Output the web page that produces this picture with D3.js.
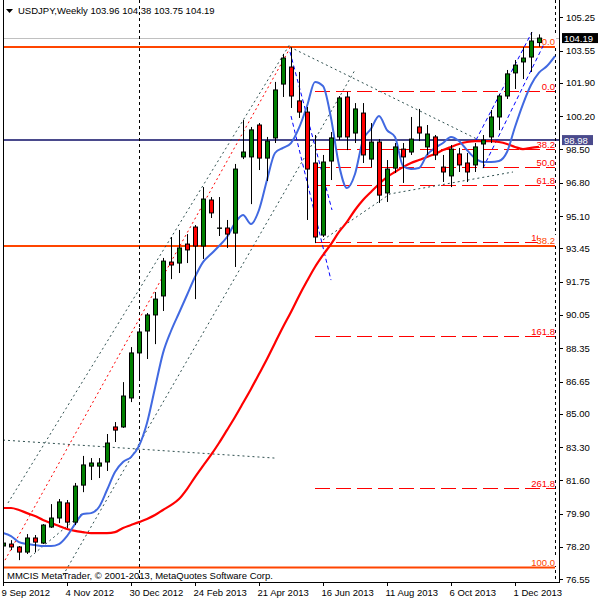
<!DOCTYPE html>
<html><head><meta charset="utf-8">
<script src="https://cdn.jsdelivr.net/npm/d3@7"></script>
<style>
body{margin:0;background:#fff}
svg{display:block}
text{font-family:"Liberation Sans",Arial,sans-serif}
</style>
</head><body>
<svg id="chart" width="600" height="600"></svg>
<script>
// ---------- DATA ----------
const symbolTitle = "USDJPY,Weekly";
const lastOHLC = [103.96, 104.38, 103.75, 104.19];
const copyright = "MMCIS MetaTrader, \u00A9 2001-2013, MetaQuotes Software Corp.";

const opens  = [78.25,78.35,78.20,77.94,78.66,78.40,79.22,79.68,80.45,79.47,81.36,82.33,82.33,82.54,84.33,84.33,85.81,88.11,89.23,90.05,91.02,92.75,92.70,93.67,94.54,93.57,95.92,94.49,94.49,94.23,98.12,98.12,99.75,98.06,99.09,101.84,102.71,100.98,100.41,97.81,94.13,97.91,99.14,101.18,99.34,100.36,98.01,98.88,96.28,97.55,98.52,98.37,99.65,98.63,99.14,97.60,97.15,98.27,97.81,97.71,98.78,99.14,100.16,101.23,102.41,102.97,103.22,103.96];
const highs  = [78.50,78.55,78.25,78.86,78.81,79.37,80.39,80.65,80.60,81.47,82.85,82.74,82.74,83.97,84.58,86.62,88.41,89.38,90.15,91.22,92.96,94.03,94.39,94.18,94.64,96.58,96.07,96.07,94.90,97.76,100.00,99.65,99.85,99.14,101.95,103.38,103.71,102.46,100.67,99.24,98.22,99.39,101.23,101.44,100.87,100.87,99.85,99.03,97.96,98.83,98.83,100.16,100.57,99.75,99.24,98.22,98.73,98.58,98.32,98.83,99.24,100.52,101.33,102.56,103.07,103.73,104.50,104.38];
const lows   = [78.10,78.04,77.53,77.84,77.94,78.35,79.17,79.42,79.17,79.32,81.00,81.62,81.72,82.08,83.56,84.28,85.60,86.83,87.80,88.56,90.25,91.88,92.19,92.70,90.86,92.91,95.00,94.08,93.47,92.50,98.01,95.71,97.45,96.89,98.83,101.18,100.62,100.11,94.90,93.72,94.03,96.94,98.98,98.47,98.83,97.81,97.60,95.77,95.82,97.30,96.79,98.22,98.93,98.22,97.96,96.84,96.58,97.35,96.84,97.35,97.55,98.83,99.49,101.08,101.59,102.10,102.46,103.75];
const closes = [78.40,78.20,77.94,78.66,78.45,79.32,79.68,80.50,79.47,81.31,82.39,82.49,82.49,83.51,84.17,85.91,88.11,89.18,90.05,90.86,92.80,92.60,93.47,93.37,93.57,95.97,95.26,94.49,94.18,97.50,98.37,99.50,98.06,98.93,101.54,103.17,101.23,100.41,97.50,94.03,97.86,99.09,101.13,99.14,100.57,98.22,98.88,96.17,97.50,98.63,98.12,99.03,99.34,99.29,98.22,97.35,98.52,97.71,97.35,98.63,98.98,100.16,101.23,102.36,102.81,103.17,104.04,104.19];

// slow moving average (red)
const maSlow = [80.19,80.19,80.09,79.93,79.78,79.58,79.42,79.27,79.12,79.02,78.96,78.91,78.91,78.91,78.96,79.17,79.32,79.47,79.63,79.83,80.09,80.34,80.65,81.16,81.77,82.34,82.90,83.51,84.17,84.84,85.55,86.27,87.03,87.80,88.62,89.43,90.20,91.02,91.78,92.50,93.11,93.67,94.29,94.80,95.41,95.92,96.33,96.74,97.09,97.35,97.60,97.81,97.96,98.12,98.27,98.47,98.63,98.78,98.88,98.93,98.93,98.93,98.88,98.78,98.63,98.52,98.58,98.63];
// fast moving average (blue), shifted forward two bars
const maFast = [78.91,78.76,78.45,78.35,78.30,78.25,78.25,78.35,78.76,79.37,79.88,79.93,80.24,81.11,82.03,82.54,82.79,83.36,84.53,86.32,88.10,89.23,90.15,91.07,91.99,92.75,93.16,93.57,94.03,94.74,95.15,94.69,95.41,96.94,98.32,98.58,98.83,99.60,100.72,101.95,101.74,100.11,97.71,96.53,97.25,98.98,99.55,100.21,99.49,99.14,97.66,97.50,97.55,98.22,98.58,98.83,99.14,98.93,98.47,98.06,97.86,97.86,97.91,98.37,99.65,100.82,101.79,102.42,102.76,103.27];

const priceTicks = [105.25,103.55,101.90,100.20,98.50,96.80,95.10,93.45,91.75,90.05,88.35,86.65,85.00,83.30,81.60,79.90,78.20,76.55];
const dateLabels = ["9 Sep 2012","4 Nov 2012","30 Dec 2012","24 Feb 2013","21 Apr 2013","16 Jun 2013","11 Aug 2013","6 Oct 2013","1 Dec 2013"];
const dateBars   = [0,8,16,24,32,40,48,56,64];

const orangeFibLevels = [0, 38.2, 100];
const orangeFibPrices = [103.73, 77.15];
const redFibLevels = [0, 38.2, 50, 61.8, 100, 161.8, 261.8];
const redFibPrices = [101.50, 93.75];
const redFibStartBar = 39;

const bidPrice = 104.19;
const hLinePrice = 98.98;
const markerBars = [17, 69];

// trendline anchors [bar, price]
const grayLines = [
  [[0.625,80.45],[35.875,103.89]],
  [[7.5,76.75],[44,102.56]],
  [[3.4,77.69],[10.1,79.98]],
  [[0,83.66],[34,82.74]],
  [[35.875,103.73],[60.25,98.83]],
  [[40,93.88],[48.375,96.23],[63.75,97.35]]
];
const redDotLines = [[[0.25,77.53],[35.875,103.68]]];
const blueDashLines = [
  [[35.875,103.48],[41.125,95.41]],
  [[36,100.21],[41,91.83]],
  [[59.125,98.98],[66.125,104.50]],
  [[60,97.55],[67.875,104.09]]
];

// ---------- DRAW ----------
const svg = d3.select("#chart");
const L = 3, R = 559, B = 582;
const x = d3.scaleLinear().domain([0, 69]).range([3, 555]);
const y = d3.scaleLinear().domain([76.55, 105.25]).range([579.3, 17.3]);
const X = i => Math.round(x(i)) + 0.5;

svg.append("defs").append("clipPath").attr("id","plot")
  .append("rect").attr("x",L).attr("y",0).attr("width",R-L).attr("height",B);

const g = svg.append("g").attr("clip-path","url(#plot)");

// bid line
g.append("line").attr("x1",L).attr("x2",R).attr("y1",Math.round(y(bidPrice))+0.5).attr("y2",Math.round(y(bidPrice))+0.5)
  .attr("stroke","#c0c0c0").attr("stroke-width",1);

// orange fib
const ofy = lv => orangeFibPrices[0] + (orangeFibPrices[1]-orangeFibPrices[0])*lv/100;
g.selectAll(".ofib").data(orangeFibLevels).enter().append("line")
  .attr("x1",L).attr("x2",x(69)).attr("y1",d=>y(ofy(d))).attr("y2",d=>y(ofy(d)))
  .attr("stroke","#ff4500").attr("stroke-width",2);

// red fib
const rfy = lv => redFibPrices[0] + (redFibPrices[1]-redFibPrices[0])*lv/100;
g.selectAll(".rfib").data(redFibLevels).enter().append("line")
  .attr("x1",x(redFibStartBar)).attr("x2",x(69)).attr("y1",d=>Math.round(y(rfy(d)))+0.5).attr("y2",d=>Math.round(y(rfy(d)))+0.5)
  .attr("stroke","#ff0000").attr("stroke-width",1).attr("stroke-dasharray","15,6");

// navy horizontal line
g.append("line").attr("x1",L).attr("x2",R).attr("y1",y(hLinePrice)).attr("y2",y(hLinePrice))
  .attr("stroke","#4a4a8c").attr("stroke-width",2);

// vertical dashed markers
g.selectAll(".vm").data(markerBars).enter().append("line")
  .attr("x1",d=>X(d)).attr("x2",d=>X(d)).attr("y1",0).attr("y2",B)
  .attr("stroke","#000").attr("stroke-width",1).attr("stroke-dasharray","3,3");

// trendlines
const tl = d3.line().x(d=>x(d[0])).y(d=>y(d[1]));
g.selectAll(".gl").data(grayLines).enter().append("path").attr("d",tl)
  .attr("fill","none").attr("stroke","#2f4f4f").attr("stroke-width",1).attr("stroke-dasharray","2,3");
g.selectAll(".rl").data(redDotLines).enter().append("path").attr("d",tl)
  .attr("fill","none").attr("stroke","#ff0000").attr("stroke-width",1).attr("stroke-dasharray","2,3");
g.selectAll(".bl").data(blueDashLines).enter().append("path").attr("d",tl)
  .attr("fill","none").attr("stroke","#0000ff").attr("stroke-width",1).attr("stroke-dasharray","4,3");

// moving averages
const maLine = d3.line().x((d,i)=>x(i)).y(d=>y(d)).curve(d3.curveMonotoneX);
g.append("path").attr("d",maLine(maSlow)).attr("fill","none").attr("stroke","#ff0000").attr("stroke-width",2.2);
g.append("path").attr("d",maLine(maFast)).attr("fill","none").attr("stroke","#4169e1").attr("stroke-width",2);

// candles
const bars = opens.map((o,i)=>({i,o,h:highs[i],l:lows[i],c:closes[i]}));
const cg = g.selectAll(".candle").data(bars).enter().append("g");
cg.append("line").attr("x1",d=>X(d.i)).attr("x2",d=>X(d.i))
  .attr("y1",d=>y(d.h)).attr("y2",d=>y(d.l)).attr("stroke","#000").attr("stroke-width",1);
cg.append("rect")
  .attr("x",d=>X(d.i)-2).attr("width",4)
  .attr("y",d=>y(Math.max(d.o,d.c)))
  .attr("height",d=>Math.max(Math.abs(y(d.o)-y(d.c)),0.3))
  .attr("fill",d=>d.c>=d.o?"#008000":"#ff0000").attr("stroke","#000").attr("stroke-width",1);

// fib labels
const fs = 9.5;
svg.selectAll(".rfl").data(redFibLevels).enter().append("text")
  .attr("x",555).attr("y",d=>Math.round(y(rfy(d)))-1).attr("text-anchor","end")
  .attr("font-size",fs).attr("fill","#ff0000").text(d=>d.toFixed(1));
const lw = d => (d===100?22:d>=10?18:13);
const ol = svg.selectAll(".ofl").data(orangeFibLevels).enter().append("g");
ol.append("rect").attr("x",d=>556-lw(d)).attr("y",d=>y(ofy(d))-11)
  .attr("width",lw).attr("height",9.5).attr("fill","#fff");
ol.append("text").attr("x",555).attr("y",d=>y(ofy(d))-2).attr("text-anchor","end")
  .attr("font-size",fs).attr("fill","#ff4500").text(d=>d.toFixed(1));

// frame and axes
svg.append("line").attr("x1",L+0.5).attr("x2",L+0.5).attr("y1",0).attr("y2",B+0.5).attr("stroke","#000");
svg.append("line").attr("x1",R+0.5).attr("x2",R+0.5).attr("y1",0).attr("y2",B+0.5).attr("stroke","#000");
svg.append("line").attr("x1",L).attr("x2",R+1).attr("y1",B+0.5).attr("y2",B+0.5).attr("stroke","#000");

// price axis
svg.selectAll(".pt").data(priceTicks).enter().append("line")
  .attr("x1",R+1).attr("x2",R+4).attr("y1",d=>Math.round(y(d))+0.5).attr("y2",d=>Math.round(y(d))+0.5).attr("stroke","#000");
svg.selectAll(".ptl").data(priceTicks).enter().append("text")
  .attr("x",566).attr("y",d=>y(d)+3.5).attr("font-size",fs).attr("fill","#000").text(d=>d.toFixed(2));

// price tags
function tag(price, bg, w){
  const yy = y(price);
  svg.append("rect").attr("x",562).attr("y",yy-5).attr("width",w).attr("height",10).attr("fill",bg);
  svg.append("text").attr("x",564).attr("y",yy+3.5).attr("font-size",fs).attr("fill","#fff").text(price.toFixed(2));
}
tag(bidPrice,"#000",36);
tag(hLinePrice,"#4a4a8c",31);

// date axis
svg.selectAll(".dt").data(dateBars).enter().append("line")
  .attr("x1",d=>X(d)).attr("x2",d=>X(d)).attr("y1",B).attr("y2",B+4).attr("stroke","#000");
svg.selectAll(".dtl").data(dateLabels).enter().append("text")
  .attr("x",(d,i)=>X(dateBars[i])-2).attr("y",595.5).attr("font-size",fs).attr("fill","#000").text(d=>d);

// header
svg.append("path").attr("d","M6,9 L13,9 L9.5,13 Z").attr("fill","#000");
svg.append("text").attr("x",18).attr("y",14).attr("font-size",fs).attr("fill","#000")
  .text(symbolTitle + "  " + lastOHLC.map(v=>v.toFixed(2)).join(" "));

// copyright
svg.append("text").attr("x",7).attr("y",578.5).attr("font-size",fs).attr("fill","#000").text(copyright);
</script>
</body></html>
